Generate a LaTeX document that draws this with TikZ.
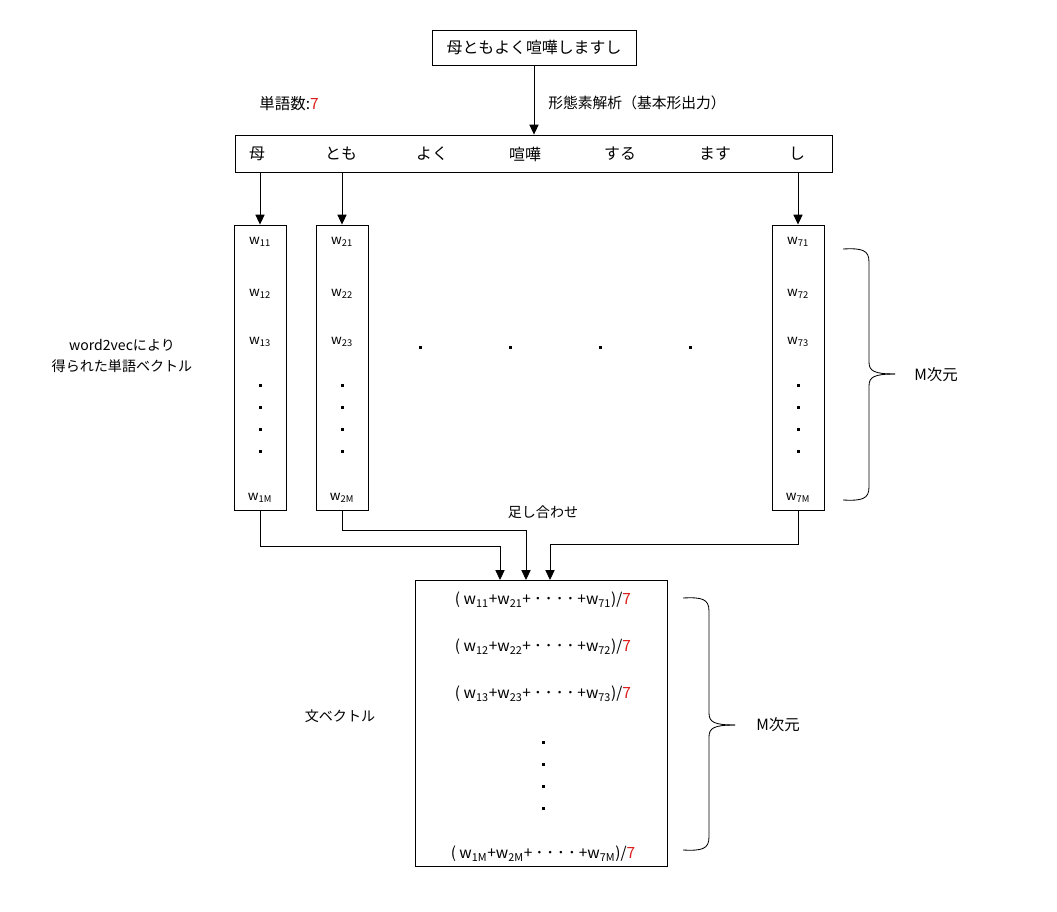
\documentclass[tikz,border=0pt]{standalone}
\usepackage{fontspec}
\setmainfont{Noto Sans CJK JP}
\usetikzlibrary{arrows.meta}
\definecolor{numred}{RGB}{220,30,30}
\newcommand{\wsub}[1]{w\textsubscript{#1}}
\newcommand{\mdots}{\hspace{0.2em}･\hspace{0.2em}･\hspace{0.2em}･\hspace{0.2em}･\hspace{0.2em}}

\begin{document}
\begin{tikzpicture}[x=0.025cm, y=-0.025cm, line width=0.6pt,
    box/.style={draw, inner sep=0pt},
    lbl/.style={font=\fontsize{10}{15}\selectfont, inner sep=0pt},
    big/.style={font=\fontsize{11.3}{13}\selectfont, inner sep=0pt},
    ent/.style={font=\fontsize{9.5}{11}\selectfont, inner sep=0pt},
    row/.style={font=\fontsize{11}{12}\selectfont, inner sep=0pt},
    arr/.style={-{Triangle[length=7pt,width=6.5pt]}}]
    \useasboundingbox (0,0) rectangle (1057,912);

    % --- Sentence and morphological analysis ---
    \node[box, minimum width=5.1cm, minimum height=0.875cm, big] (sent) at (534,47.5) {母ともよく喧嘩しますし};
    \node[box, minimum width=14.925cm, minimum height=0.925cm] (words) at (533.5,153.5) {};
    \draw[arr] (sent.south) -- (sent.south |- words.north);
    \node[lbl, anchor=west, font=\fontsize{10.5}{12}\selectfont] (morph) at (548,103) {形態素解析（基本形出力）};
    \node[lbl, anchor=west, font=\fontsize{11}{13}\selectfont] (count) at (259,104) {単語数:\textcolor{numred}{7}};

    % Words after analysis
    \foreach \w/\x [count=\k] in {母/257, とも/341, よく/432, 喧嘩/525, する/620, ます/715, し/797}
        \node[big] (wd\k) at (\x,154) {\w};

    % --- Word vectors (columns 1, 2 and 7) ---
    \foreach \i/\x in {1/260, 2/342, 7/798} {
        \node[box, minimum width=1.3cm, minimum height=7.125cm] (col\i) at (\x,367.5) {};
        \node[ent] (e\i1) at (\x,242) {\wsub{\i1}};
        \node[ent] (e\i2) at (\x,294) {\wsub{\i2}};
        \node[ent] (e\i3) at (\x,342) {\wsub{\i3}};
        \node[ent] (e\i M) at (\x,498) {\wsub{\i M}};
        \foreach \y in {385,407,429,451}
            \fill (\x-1.5,\y-1.5) rectangle ++(3,3);
        \draw[arr] (col\i.north |- words.south) -- (col\i.north);
    }

    % Dots between columns
    \foreach \x in {420,510,600,690}
        \fill (\x-1.5,345.5) rectangle ++(3,3);

    \node[lbl, align=center] (wvec) at (122,356) {word2vecにより\\得られた単語ベクトル};

    % Brace of the word vectors
    \draw (843,249) .. controls (862,248) and (869,250) .. (869,262) -- (869,362)
        .. controls (869,371) and (874,374) .. (895,374);
    \draw (843,500) .. controls (862,501) and (869,499) .. (869,487) -- (869,386)
        .. controls (869,377) and (874,374) .. (895,374);
    \node[lbl, font=\fontsize{11}{13}\selectfont] (dimA) at (936,375) {M次元};

    % --- Sum into the sentence vector ---
    \node[box, minimum width=6.3cm, minimum height=7.15cm] (sum) at (541,723) {};
    \coordinate (in1) at (500,580);
    \coordinate (in2) at (526,580);
    \coordinate (in7) at (550,580);
    \draw[arr] (col1.south) -- ++(0,36) -| (in1);
    \draw[arr] (col2.south) -- ++(0,20) -| (in2);
    \draw[arr] (col7.south) -- ++(0,34) -| (in7);
    \node[lbl] (add) at (543,512) {足し合わせ};

    \node[row] (r1) at (543,600) {( \wsub{11}+\wsub{21}+\mdots+\wsub{71})/\textcolor{numred}{7}};
    \node[row] (r2) at (543,647) {( \wsub{12}+\wsub{22}+\mdots+\wsub{72})/\textcolor{numred}{7}};
    \node[row] (r3) at (543,694) {( \wsub{13}+\wsub{23}+\mdots+\wsub{73})/\textcolor{numred}{7}};
    \foreach \y in {742,764,786,808}
        \fill (543-1.5,\y-1.5) rectangle ++(3,3);
    \node[row] (rM) at (543,854) {( \wsub{1M}+\wsub{2M}+\mdots+\wsub{7M})/\textcolor{numred}{7}};

    \node[lbl] (svec) at (340,716) {文ベクトル};

    % Brace of the sentence vector
    \draw (683,598) .. controls (702,597) and (709,599) .. (709,611) -- (709,713)
        .. controls (709,722) and (714,725) .. (735,725);
    \draw (683,850) .. controls (702,851) and (709,849) .. (709,837) -- (709,737)
        .. controls (709,728) and (714,725) .. (735,725);
    \node[lbl, font=\fontsize{11}{13}\selectfont] (dimB) at (778,725) {M次元};
\end{tikzpicture}
\end{document}
